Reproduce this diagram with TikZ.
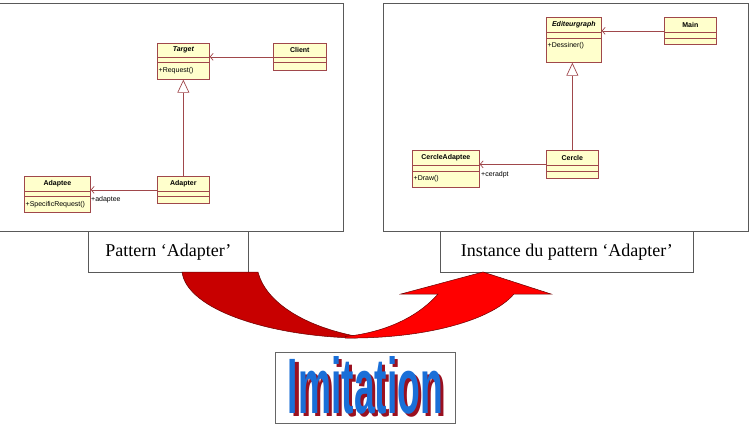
\documentclass[tikz,border=0pt]{standalone}
\usepackage{fontspec}
\setmainfont{Liberation Serif}
\setsansfont{Liberation Sans}
\usepackage{graphicx}
\usetikzlibrary{arrows.meta}
\definecolor{umlfill}{HTML}{FFFFCC}
\definecolor{umlline}{HTML}{A0474B}
\definecolor{darkred}{HTML}{C80000}
\definecolor{brightred}{HTML}{FF0000}
\definecolor{imblue}{HTML}{1A6FD8}
\definecolor{imshadow}{HTML}{9A1020}
\begin{document}
\begin{tikzpicture}[x=1pt,y=-1pt,
  panel/.style={draw=black!65, line width=0.8pt},
  labelbox/.style={draw=black!65, fill=white, line width=0.8pt, inner sep=0pt, anchor=north west, font=\fontsize{18}{20}\selectfont},
  umlbox/.style={draw=umlline, fill=umlfill, line width=0.7pt, inner sep=0pt, anchor=north west},
  umlsep/.style={draw=umlline, line width=0.7pt},
  umltitle/.style={font=\sffamily\bfseries\fontsize{7}{8}\selectfont, inner sep=0pt},
  umltext/.style={font=\sffamily\fontsize{7}{8}\selectfont, inner sep=0pt, anchor=west},
  rolelabel/.style={font=\sffamily\fontsize{7}{8}\selectfont, inner sep=0pt, anchor=west},
  assoc/.style={draw=umlline, line width=0.7pt, -{Straight Barb[length=3pt,width=7pt]}},
  gen/.style={draw=umlline, line width=0.7pt, -{Triangle[open,fill=white,length=13pt,width=12pt]}},
  limb/.style={draw=black!60!red, line width=0.5pt},
  imbox/.style={draw=black!60, line width=0.8pt, fill=white, inner sep=0pt}
]
\useasboundingbox (0,0) rectangle (750,426);

% panels
\draw[panel] (-1,3) rectangle (343,231);
\draw[panel] (383,3) rectangle (748,231);

% ---------- left UML ----------
\node[umlbox, minimum width=52pt, minimum height=36pt] (target) at (157,43) {};
\draw[umlsep] ([yshift=-14pt]target.north west) -- ([yshift=-14pt]target.north east);
\draw[umlsep] ([yshift=-19pt]target.north west) -- ([yshift=-19pt]target.north east);
\node[umltitle] at ([yshift=-7pt]target.north) {\itshape Target};
\node[umltext] at ([xshift=1.5pt,yshift=-27.5pt]target.north west) {+Request()};

\node[umlbox, minimum width=53pt, minimum height=27pt] (client) at (273,43) {};
\draw[umlsep] ([yshift=-14pt]client.north west) -- ([yshift=-14pt]client.north east);
\draw[umlsep] ([yshift=-19pt]client.north west) -- ([yshift=-19pt]client.north east);
\node[umltitle] at ([yshift=-7pt]client.north) {Client};

\node[umlbox, minimum width=66pt, minimum height=36pt] (adaptee) at (24,176) {};
\draw[umlsep] ([yshift=-15pt]adaptee.north west) -- ([yshift=-15pt]adaptee.north east);
\draw[umlsep] ([yshift=-20pt]adaptee.north west) -- ([yshift=-20pt]adaptee.north east);
\node[umltitle] at ([yshift=-7.5pt]adaptee.north) {Adaptee};
\node[umltext] at ([xshift=1.5pt,yshift=-28.5pt]adaptee.north west) {+SpecificRequest()};

\node[umlbox, minimum width=52pt, minimum height=27pt] (adapter) at (157,176) {};
\draw[umlsep] ([yshift=-15pt]adapter.north west) -- ([yshift=-15pt]adapter.north east);
\draw[umlsep] ([yshift=-20pt]adapter.north west) -- ([yshift=-20pt]adapter.north east);
\node[umltitle] at ([yshift=-7.5pt]adapter.north) {Adapter};

\draw[assoc] (client.west) -- (client.west -| target.east);
\draw[gen] (adapter.north) -- (target.south);
\draw[assoc] (adapter.west) -- (adapter.west -| adaptee.east);
\node[rolelabel] (role1) at (91,200) {+adaptee};

% ---------- right UML ----------
\node[umlbox, minimum width=55pt, minimum height=45pt] (editeur) at (546,17) {};
\draw[umlsep] ([yshift=-15pt]editeur.north west) -- ([yshift=-15pt]editeur.north east);
\draw[umlsep] ([yshift=-21pt]editeur.north west) -- ([yshift=-21pt]editeur.north east);
\node[umltitle] at ([yshift=-7.5pt]editeur.north) {\itshape Editeurgraph};
\node[umltext] at ([xshift=1.5pt,yshift=-29pt]editeur.north west) {+Dessiner()};

\node[umlbox, minimum width=52pt, minimum height=27pt] (main) at (664,17) {};
\draw[umlsep] ([yshift=-15pt]main.north west) -- ([yshift=-15pt]main.north east);
\draw[umlsep] ([yshift=-21pt]main.north west) -- ([yshift=-21pt]main.north east);
\node[umltitle] at ([yshift=-7.5pt]main.north) {Main};

\node[umlbox, minimum width=67pt, minimum height=37pt] (cadaptee) at (412,150) {};
\draw[umlsep] ([yshift=-15pt]cadaptee.north west) -- ([yshift=-15pt]cadaptee.north east);
\draw[umlsep] ([yshift=-21pt]cadaptee.north west) -- ([yshift=-21pt]cadaptee.north east);
\node[umltitle] at ([yshift=-7.5pt]cadaptee.north) {CercleAdaptee};
\node[umltext] at ([xshift=1.5pt,yshift=-29pt]cadaptee.north west) {+Draw()};

\node[umlbox, minimum width=52pt, minimum height=28pt] (cercle) at (546,150) {};
\draw[umlsep] ([yshift=-15pt]cercle.north west) -- ([yshift=-15pt]cercle.north east);
\draw[umlsep] ([yshift=-21pt]cercle.north west) -- ([yshift=-21pt]cercle.north east);
\node[umltitle] at ([yshift=-7.5pt]cercle.north) {Cercle};

\draw[assoc] (main.west) -- (main.west -| editeur.east);
\draw[gen] (cercle.north) -- (cercle.north |- editeur.south);
\draw[assoc] (cercle.west) -- (cercle.west -| cadaptee.east);
\node[rolelabel] (role2) at (481,175) {+ceradpt};

% ---------- labels ----------
\node[labelbox, minimum width=160pt, minimum height=41pt] (lab1) at (88,231) {Pattern ‘Adapter’};
\node[labelbox, minimum width=253pt, minimum height=41pt] (lab2) at (440,231) {Instance du pattern ‘Adapter’};

% ---------- curved red arrow ----------
\draw[limb, fill=darkred] (182,272) -- (258,272)
  .. controls (265,300) and (300,325) .. (355,336)
  -- (355,338)
  .. controls (270,336) and (187,310) .. (182,272) -- cycle;
\draw[limb, fill=brightred] (345,338)
  .. controls (420,339) and (490,322) .. (514,294)
  -- (551,294) -- (483,272) -- (401,294) -- (438,294)
  .. controls (415,320) and (380,333) .. (345,336.5) -- cycle;

% ---------- Imitation ----------
\node[imbox, minimum width=180pt, minimum height=71pt] (imit) at (365,387.5) {};
\node[inner sep=0pt] (imittext) at (365.5,387) {\resizebox{155pt}{57pt}{\fontsize{10}{12}\sffamily\bfseries\makebox[0pt][l]{\hspace*{0.85pt}\raisebox{-0.38pt}{\color{imshadow}Imitation}}\color{imblue}Imitation}};
\end{tikzpicture}
\end{document}
